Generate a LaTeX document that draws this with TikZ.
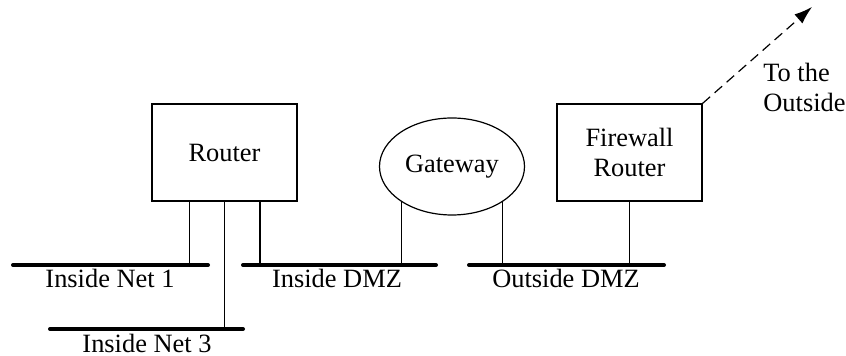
\documentclass[tikz,border=0pt]{standalone}
\usepackage{fontspec}
\setmainfont{Liberation Serif}
\usetikzlibrary{arrows.meta,shapes.geometric}
\begin{document}
\begin{tikzpicture}[x=0.5pt,y=-0.5pt,
  lbl/.style={font=\fontsize{13.2}{15}\selectfont,inner sep=0pt},
  box/.style={draw,line width=0.6pt,minimum width=72.5pt,minimum height=48.5pt,inner sep=0pt,align=center,font=\fontsize{13.2}{15}\selectfont},
  gwstyle/.style={draw,ellipse,line width=0.6pt,minimum width=72.5pt,minimum height=48.5pt,inner sep=0pt,font=\fontsize{13.2}{15}\selectfont},
  bus/.style={line width=2pt,line cap=round},
  wire/.style={line width=0.6pt}]
\useasboundingbox (0,0) rectangle (846,356);
% nodes
\node[box] (router) at (224.5,152.5) {Router};
\node[box] (fw) at (629.5,152.5) {Firewall\\Router};
\node[gwstyle] (gw) at (452,166.5) {Gateway};
% bus end points
\coordinate (n1a) at (13,265);  \coordinate (n1b) at (208,265);
\coordinate (dza) at (243,265); \coordinate (dzb) at (436,265);
\coordinate (oda) at (469,265); \coordinate (odb) at (664,265);
\coordinate (n3a) at (50,329);  \coordinate (n3b) at (243,329);
% taps
\coordinate (t1) at (189.5,265);
\coordinate (t3) at (224.5,329);
\coordinate (t2) at (260,265);
\coordinate (t6) at (629.5,265);
\coordinate (outside) at (812,7);
% buses
\draw[bus] (n1a) -- (n1b);
\draw[bus] (dza) -- (dzb);
\draw[bus] (oda) -- (odb);
\draw[bus] (n3a) -- (n3b);
% wires
\draw[wire] (router.south -| t1) -- (t1);
\draw[wire] (router.south -| t3) -- (t3);
\draw[wire] (router.south -| t2) -- (t2);
\draw[wire] (gw.215) -- (gw.215 |- dzb);
\draw[wire] (gw.325) -- (gw.325 |- oda);
\draw[wire] (fw.south) -- (t6);
\draw[wire,dash pattern=on 5pt off 3pt,-{Latex[length=9pt,width=6pt]}] (fw.north east) -- (outside);
% labels
\node[lbl] (l1) at (110,278) {Inside Net 1};
\node[lbl] (l2) at (337,278) {Inside DMZ};
\node[lbl] (l3) at (566,278) {Outside DMZ};
\node[lbl] (l4) at (147,343) {Inside Net 3};
\node[lbl,align=left,anchor=west] (l5) at (763,87) {To the\\Outside};
\end{tikzpicture}
\end{document}
